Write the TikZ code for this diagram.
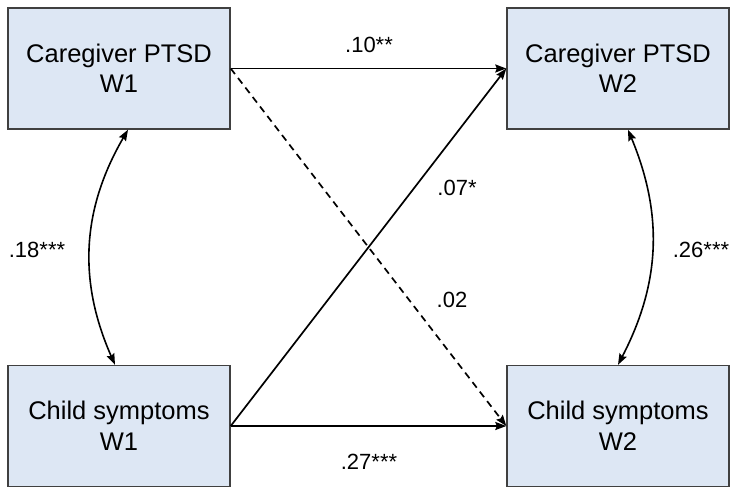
\documentclass[tikz,border=0pt]{standalone}
\usepackage{fontspec}
\setmainfont{Liberation Sans}
\usetikzlibrary{arrows.meta}
\definecolor{boxblue}{RGB}{221,231,244}
\definecolor{boxline}{RGB}{64,64,64}

\begin{document}
\begin{tikzpicture}[x=1pt,y=1pt]
      \useasboundingbox(0,0) rectangle (735,488);
      \tikzset{V/.style = {shape=rectangle, draw=boxline, fill=boxblue, line width=1.4pt,
                           minimum width=222pt, minimum height=121pt, inner sep=0pt,
                           align=center, font=\fontsize{25.5}{30.5}\selectfont}}
      \tikzset{E/.style = {draw,line width=1.7pt,-{Stealth[length=11pt,width=8pt,inset=1.5pt]}}}
      \tikzset{C/.style = {draw,line width=1.6pt,{Stealth[length=11pt,width=8pt,inset=1.5pt]}-{Stealth[length=11pt,width=8pt,inset=1.5pt]}}}
      \tikzset{L/.style = {font=\fontsize{22}{26}\selectfont}}
      \node[V](cg1) at (119,419.5) {Caregiver PTSD\\W1};
      \node[V](cg2) at (618,419.5) {Caregiver PTSD\\W2};
      \node[V](ch1) at (119,62) {Child symptoms\\W1};
      \node[V](ch2) at (618,62) {Child symptoms\\W2};
      \draw[E](cg1.east) to (cg2.west);
      \draw[E](ch1.east) to (ch2.west);
      \draw[E](ch1.east) to (cg2.west);
      \draw[E,dash pattern=on 7pt off 5pt](cg1.east) to (ch2.west);
      \draw[C]([xshift=9pt]cg1.south) to[bend right=27] ([xshift=-4pt]ch1.north);
      \draw[C]([xshift=10pt]cg2.south) to[bend left=25] (ch2.north);
      \node[L](b1) at (369,443) {.10**};
      \node[L](b2) at (457,300) {.07*};
      \node[L](b3) at (452,188) {.02};
      \node[L](b4) at (369,26) {.27***};
      \node[L](r1) at (37,238) {.18***};
      \node[L](r2) at (701,238) {.26***};
    \end{tikzpicture}
\end{document}
